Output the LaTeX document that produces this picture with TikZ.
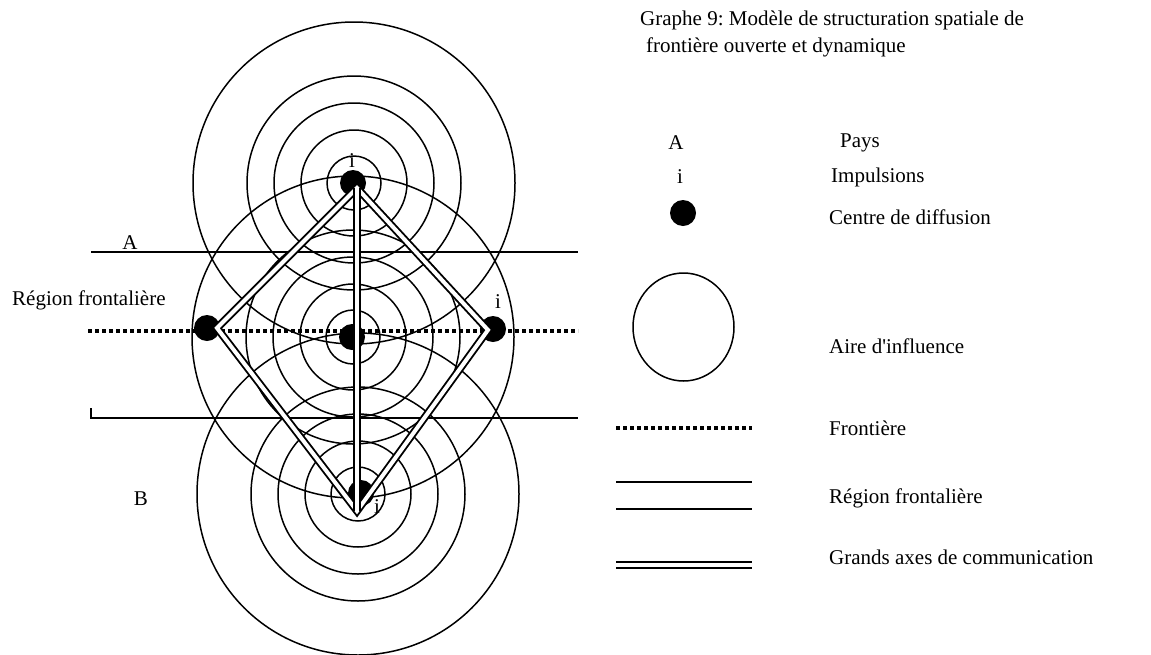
\documentclass[tikz,border=0pt]{standalone}
\usepackage{fontspec}
\setmainfont{Liberation Serif}
\usetikzlibrary{positioning}
\frenchspacing

\begin{document}
\begin{tikzpicture}[x=1pt, y=-1pt,
    lab/.style={font=\fontsize{21}{25}\selectfont, inner sep=0pt},
    aire/.style={line width=1.5pt},
    lim/.style={line width=1.9pt},
    frontiere/.style={line width=3.8pt, dash pattern=on 4pt off 3pt},
    axe/.style={double, line width=1.9pt, double distance=4pt, line join=miter},
    diffcentre/.style={circle, fill, inner sep=0pt, minimum size=26pt}]
    \useasboundingbox (0,0) rectangle (1151,654);

    % Centres of the influence areas
    \coordinate (cT) at (354,183);
    \coordinate (cM) at (353,337);
    \coordinate (cB) at (358,494);

    % Influence areas
    \foreach \c in {cT, cM, cB}
        \foreach \r in {27, 53, 80, 107, 161}
            \draw[aire] (\c) circle (\r);

    % Border region and border
    \draw[lim] (91,252) -- (578,252);
    \draw[lim] (91,408) -- (91,418) -- (578,418);
    \draw[frontiere] (88,331) -- (578,331);

    % Diffusion centres
    \node[diffcentre] (dT) at (353,183) {};
    \node[diffcentre] (dM) at (352,337) {};
    \node[diffcentre] (dL) at (207,328) {};
    \node[diffcentre] (dR) at (493,329) {};
    \node[diffcentre] (dB) at (361,493) {};

    % Main axes of communication
    \coordinate (aT) at (357,188);
    \coordinate (aL) at (217,328);
    \coordinate (aB) at (357,511);
    \coordinate (aR) at (488,330);
    \draw[axe] (aT) -- (aL) -- (aB) -- (aR) -- cycle;
    \draw[axe] (aT) -- (aB);

    % Impulsions
    \node[lab] (iT) at (352,161) {i};
    \node[lab] (iR) at (498,302) {i};
    \node[lab] (iB) at (377,507) {i};

    % Countries and region
    \node[lab] (pA) at (130,243) {A};
    \node[lab] (pB) at (141,499) {B};
    \node[lab, anchor=west] (region) at (12,300) {Région frontalière};

    % Title
    \node[lab, anchor=west] (titre1) at (640,20) {Graphe 9: Modèle de structuration spatiale de};
    \node[lab, anchor=west] (titre2) at (646,47) {frontière ouverte et dynamique};

    % Legend
    \node[lab] (legA) at (676,143) {A};
    \node[lab, anchor=west] (legPays) at (840,143) {Pays};
    \node[lab] (legI) at (680,177) {i};
    \node[lab, anchor=west] (legImp) at (831,177) {Impulsions};
    \node[diffcentre] (legDot) at (683,213) {};
    \node[lab, anchor=west] (legCentre) at (829,217) {Centre de diffusion};
    \draw[aire] (683.5,327) ellipse (50.5 and 54);
    \node[lab, anchor=west] (legAire) at (829,346) {Aire d\textquotesingle influence};
    \draw[frontiere] (616,428) -- (752,428);
    \node[lab, anchor=west] (legFront) at (829,428) {Frontière};
    \draw[lim] (616,482) -- (752,482);
    \draw[lim] (616,509) -- (752,509);
    \node[lab, anchor=west] (legRegion) at (829,498) {Région frontalière};
    \draw[axe] (616,565) -- (752,565);
    \node[lab, anchor=west] (legAxes) at (829,557) {Grands axes de communication};

\end{tikzpicture}
\end{document}
